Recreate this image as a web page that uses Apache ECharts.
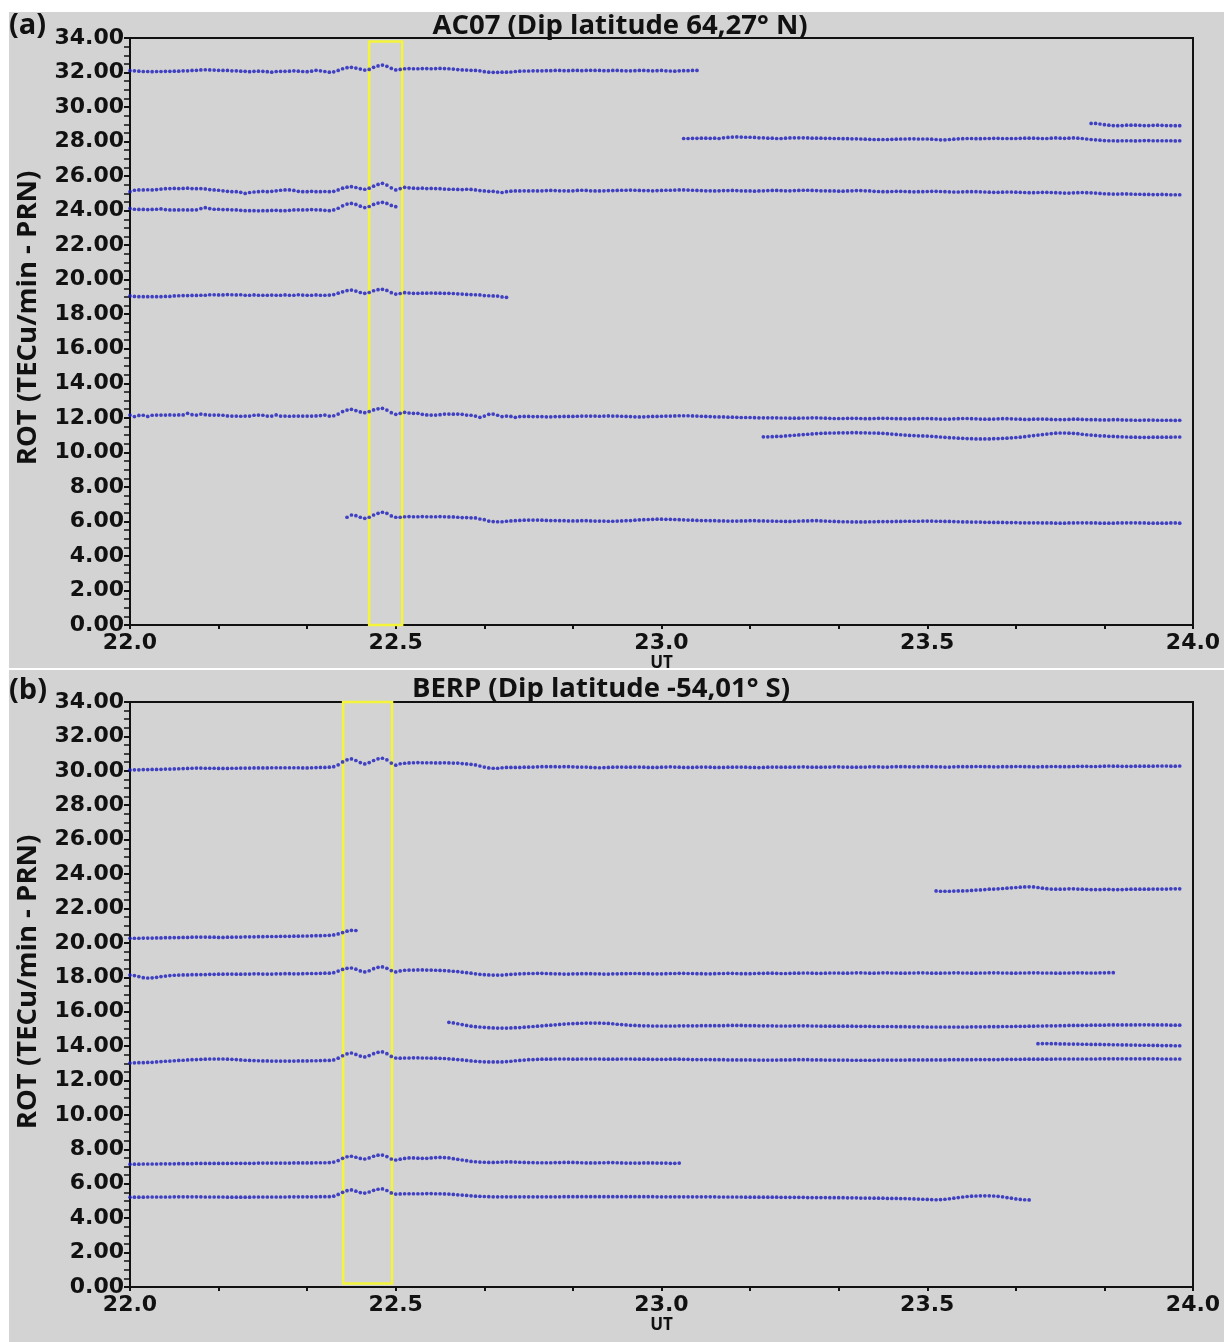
<!DOCTYPE html>
<html><head><meta charset="utf-8">
<script src="https://cdn.jsdelivr.net/npm/echarts@6/dist/echarts.min.js"></script>
<style>html,body{margin:0;padding:0;background:#fff}#c{width:1224px;height:1342px}</style>
</head><body><div id="c"></div>
<script>
// ---- sampling: 30 s per point, sample index 0 = 22.0 UT ----
const UT_START = 22.0;
const SAMPLES_PER_HOUR = 120;
const X_TICKS = [22.0, 22.5, 23.0, 23.5, 24.0];
const Y_TICKS = [0,2,4,6,8,10,12,14,16,18,20,22,24,26,28,30,32,34];
const TITLE_A = 'AC07 (Dip latitude 64,27° N)';
const TITLE_B = 'BERP (Dip latitude -54,01° S)';
const Y_NAME = 'ROT (TECu/min - PRN)';
const X_NAME = 'UT';
// highlight boxes: [utFrom, utTo, yFrom, yTo]
const BOX_A = [22.45, 22.512, -0.1, 33.8];
const BOX_B = [22.401, 22.493, 0.2, 34];

// ---------- panel (a) AC07 ----------
const A1_START = 0;
const A1 = [32.11,32.1,32.08,32.06,32.06,32.05,32.06,32.06,32.07,32.07,32.08,32.08,32.1,32.1,32.12,32.13,32.15,32.16,32.15,32.14,
32.13,32.12,32.12,32.1,32.1,32.08,32.07,32.05,32.07,32.08,32.07,32.05,32.02,32.06,32.07,32.07,32.08,32.1,32.08,32.06,
32.05,32.08,32.13,32.1,32.06,32.02,32.04,32.12,32.22,32.28,32.3,32.26,32.2,32.14,32.18,32.3,32.38,32.43,32.36,32.24,
32.15,32.18,32.22,32.23,32.22,32.22,32.23,32.23,32.22,32.23,32.24,32.23,32.22,32.2,32.17,32.15,32.14,32.13,32.12,32.1,
32.05,32.02,32.01,32.01,32.02,32.02,32.03,32.06,32.08,32.09,32.09,32.1,32.1,32.1,32.11,32.11,32.12,32.12,32.11,32.11,
32.12,32.12,32.11,32.12,32.13,32.12,32.12,32.11,32.11,32.12,32.12,32.11,32.1,32.1,32.11,32.12,32.12,32.11,32.1,32.11,
32.12,32.1,32.09,32.08,32.1,32.11,32.11,32.12,32.12];
const A2_START = 125;
const A2 = [28.18,28.18,28.19,28.19,28.2,28.2,28.19,28.2,28.18,28.22,28.24,28.26,28.27,28.26,28.25,28.25,28.24,28.22,28.22,28.2,
28.2,28.18,28.18,28.2,28.21,28.22,28.22,28.22,28.21,28.2,28.2,28.2,28.19,28.19,28.18,28.18,28.17,28.17,28.16,28.16,
28.15,28.14,28.13,28.12,28.12,28.12,28.12,28.13,28.14,28.15,28.15,28.16,28.16,28.15,28.15,28.15,28.14,28.12,28.1,28.1,
28.12,28.14,28.16,28.17,28.18,28.18,28.17,28.17,28.18,28.18,28.19,28.19,28.18,28.18,28.18,28.18,28.19,28.2,28.2,28.2,
28.19,28.18,28.18,28.2,28.21,28.2,28.19,28.2,28.21,28.2,28.18,28.15,28.12,28.1,28.08,28.06,28.05,28.05,28.04,28.05,
28.05,28.05,28.04,28.05,28.06,28.06,28.05,28.05,28.05,28.05,28.05,28.04,28.05];
const A3_START = 217;
const A3 = [29.05,29.05,29.02,28.98,28.95,28.93,28.92,28.93,28.95,28.95,28.95,28.94,28.93,28.93,28.94,28.95,28.94,28.93,28.93,28.92,28.92];
const A4_START = 0;
const A4 = [25.1,25.18,25.2,25.2,25.21,25.2,25.22,25.25,25.27,25.28,25.29,25.28,25.29,25.3,25.28,25.27,25.28,25.26,25.22,25.2,
25.18,25.15,25.12,25.1,25.1,25.06,25.0,25.05,25.08,25.1,25.12,25.1,25.12,25.15,25.18,25.2,25.2,25.17,25.12,25.1,
25.1,25.12,25.1,25.1,25.11,25.1,25.12,25.2,25.3,25.36,25.39,25.34,25.28,25.24,25.3,25.42,25.52,25.58,25.48,25.32,
25.2,25.28,25.35,25.32,25.3,25.29,25.3,25.28,25.29,25.28,25.27,25.25,25.24,25.24,25.23,25.22,25.24,25.23,25.2,25.16,
25.14,25.12,25.12,25.08,25.05,25.1,25.13,25.14,25.14,25.15,25.14,25.15,25.14,25.15,25.16,25.17,25.16,25.15,25.15,25.14,
25.15,25.17,25.18,25.17,25.15,25.14,25.14,25.15,25.16,25.16,25.17,25.18,25.18,25.19,25.18,25.17,25.16,25.16,25.15,25.16,
25.17,25.18,25.18,25.19,25.2,25.2,25.19,25.18,25.17,25.16,25.15,25.15,25.14,25.15,25.16,25.16,25.17,25.16,25.15,25.14,
25.14,25.13,25.14,25.15,25.16,25.17,25.17,25.16,25.15,25.15,25.16,25.17,25.18,25.18,25.17,25.16,25.15,25.15,25.14,25.14,
25.13,25.13,25.14,25.15,25.16,25.16,25.15,25.14,25.12,25.11,25.1,25.1,25.11,25.12,25.12,25.11,25.1,25.09,25.1,25.1,
25.11,25.12,25.12,25.11,25.1,25.09,25.08,25.08,25.09,25.1,25.1,25.1,25.09,25.08,25.07,25.06,25.06,25.07,25.08,25.08,
25.07,25.06,25.05,25.04,25.04,25.05,25.06,25.06,25.05,25.04,25.03,25.02,25.02,25.03,25.04,25.05,25.04,25.03,25.02,25.0,
24.98,24.97,24.96,24.96,24.97,24.97,24.96,24.95,24.95,24.94,24.94,24.93,24.93,24.94,24.93,24.92,24.92,24.92];
const A5_START = 0;
const A5 = [24.13,24.08,24.07,24.07,24.06,24.07,24.08,24.1,24.06,24.04,24.04,24.04,24.05,24.04,24.04,24.05,24.12,24.17,24.12,24.08,
24.08,24.06,24.06,24.05,24.04,24.02,24.0,24.0,24.0,23.99,24.0,24.0,24.01,24.02,24.0,24.0,24.02,24.04,24.05,24.04,
24.05,24.06,24.05,24.04,24.02,24.0,24.04,24.14,24.28,24.38,24.42,24.36,24.26,24.18,24.24,24.36,24.44,24.48,24.42,24.3,24.23];
const A6_START = 0;
const A6 = [19.06,19.03,19.02,19.02,19.02,19.02,19.02,19.02,19.03,19.03,19.06,19.07,19.08,19.08,19.09,19.09,19.1,19.1,19.13,19.13,
19.12,19.12,19.14,19.13,19.12,19.13,19.1,19.1,19.12,19.1,19.1,19.1,19.11,19.1,19.1,19.12,19.1,19.1,19.13,19.11,
19.1,19.1,19.12,19.1,19.1,19.11,19.14,19.22,19.3,19.37,19.4,19.34,19.26,19.21,19.26,19.36,19.42,19.44,19.38,19.25,
19.17,19.2,19.25,19.23,19.21,19.21,19.22,19.22,19.23,19.22,19.22,19.21,19.21,19.2,19.18,19.17,19.15,19.14,19.13,19.12,
19.08,19.07,19.06,19.05,19.0,18.98];
const A7_START = 0;
const A7 = [12.16,12.07,12.14,12.15,12.08,12.15,12.16,12.16,12.16,12.17,12.16,12.17,12.17,12.26,12.18,12.16,12.22,12.18,12.16,12.16,
12.16,12.15,12.11,12.1,12.1,12.09,12.1,12.1,12.15,12.16,12.15,12.1,12.1,12.17,12.1,12.1,12.09,12.1,12.1,12.1,
12.1,12.1,12.11,12.13,12.16,12.1,12.12,12.22,12.36,12.45,12.49,12.42,12.34,12.3,12.36,12.46,12.52,12.55,12.45,12.3,
12.2,12.26,12.32,12.28,12.26,12.26,12.2,12.17,12.16,12.16,12.18,12.22,12.22,12.21,12.22,12.2,12.16,12.15,12.1,12.03,
12.1,12.2,12.22,12.15,12.07,12.1,12.08,12.03,12.07,12.08,12.08,12.07,12.07,12.07,12.06,12.06,12.07,12.07,12.08,12.08,
12.08,12.09,12.1,12.1,12.1,12.1,12.09,12.1,12.11,12.1,12.1,12.09,12.08,12.07,12.06,12.05,12.06,12.07,12.08,12.08,
12.09,12.1,12.1,12.11,12.12,12.12,12.12,12.11,12.1,12.09,12.08,12.07,12.06,12.05,12.05,12.04,12.04,12.03,12.02,12.02,
12.02,12.01,12.0,12.0,12.0,12.0,12.0,11.99,11.99,11.98,11.98,11.98,11.99,11.99,12.0,12.0,11.99,11.98,11.97,11.96,
11.96,11.96,11.97,11.97,11.97,11.96,11.95,11.95,11.96,11.97,11.97,11.97,11.96,11.95,11.95,11.94,11.94,11.95,11.95,11.96,
11.96,11.95,11.94,11.93,11.93,11.93,11.94,11.95,11.96,11.96,11.95,11.94,11.93,11.92,11.92,11.93,11.94,11.95,11.95,11.94,
11.93,11.92,11.91,11.91,11.92,11.93,11.93,11.92,11.91,11.9,11.9,11.9,11.91,11.92,11.92,11.91,11.9,11.89,11.89,11.88,
11.88,11.88,11.89,11.89,11.88,11.87,11.87,11.86,11.86,11.87,11.87,11.87,11.86,11.86,11.86,11.86,11.85,11.86];
const A8_START = 143;
const A8 = [10.9,10.9,10.91,10.92,10.93,10.95,10.97,10.99,11.01,11.03,11.05,11.07,11.09,11.1,11.11,11.12,11.12,11.13,11.13,11.13,
11.14,11.14,11.13,11.13,11.12,11.12,11.11,11.1,11.08,11.06,11.04,11.02,11.0,10.98,10.97,10.96,10.95,10.94,10.93,10.91,
10.89,10.87,10.85,10.84,10.82,10.81,10.8,10.79,10.78,10.78,10.78,10.78,10.79,10.8,10.81,10.82,10.84,10.86,10.88,10.91,
10.94,10.97,11.0,11.03,11.06,11.09,11.11,11.12,11.12,11.11,11.1,11.08,11.05,11.02,11.0,10.98,10.96,10.95,10.93,10.92,
10.91,10.9,10.89,10.88,10.88,10.87,10.87,10.87,10.88,10.88,10.88,10.88,10.88,10.89,10.89];
const A9_START = 49;
const A9 = [6.24,6.37,6.33,6.24,6.18,6.24,6.37,6.47,6.53,6.47,6.32,6.24,6.24,6.27,6.28,6.27,6.27,6.28,6.27,6.27,
6.27,6.28,6.27,6.26,6.26,6.24,6.22,6.22,6.21,6.2,6.14,6.1,6.02,5.99,5.98,5.98,6.01,6.03,6.04,6.06,
6.07,6.08,6.08,6.08,6.07,6.06,6.05,6.05,6.04,6.04,6.03,6.03,6.03,6.04,6.04,6.03,6.02,6.02,6.02,6.01,
6.01,6.02,6.03,6.04,6.05,6.07,6.09,6.1,6.11,6.12,6.13,6.13,6.12,6.12,6.11,6.1,6.09,6.08,6.07,6.06,
6.05,6.05,6.04,6.04,6.03,6.03,6.02,6.02,6.02,6.03,6.03,6.04,6.04,6.03,6.03,6.02,6.02,6.01,6.01,6.0,
6.0,6.01,6.02,6.03,6.03,6.04,6.04,6.03,6.02,6.01,6.0,5.99,5.98,5.98,5.97,5.97,5.97,5.97,5.98,5.98,
5.99,5.99,5.99,5.99,6.0,6.0,6.01,6.01,6.01,6.01,6.02,6.02,6.02,6.01,6.01,6.0,6.0,5.99,5.98,5.97,
5.97,5.96,5.96,5.96,5.95,5.95,5.94,5.94,5.94,5.93,5.93,5.93,5.92,5.92,5.92,5.92,5.92,5.91,5.91,5.91,
5.9,5.9,5.9,5.91,5.91,5.92,5.92,5.92,5.91,5.91,5.9,5.9,5.9,5.9,5.91,5.91,5.92,5.92,5.92,5.91,
5.91,5.9,5.9,5.9,5.9,5.9,5.91,5.91,5.9];

// ---------- panel (b) BERP ----------
const B1_START = 0;
const B1 = [30.05,30.06,30.06,30.07,30.07,30.08,30.08,30.09,30.1,30.1,30.11,30.12,30.13,30.14,30.15,30.16,30.16,30.15,30.15,30.15,
30.14,30.14,30.14,30.15,30.15,30.16,30.16,30.16,30.17,30.17,30.17,30.17,30.18,30.18,30.18,30.18,30.18,30.18,30.18,30.17,
30.17,30.18,30.19,30.2,30.2,30.21,30.24,30.35,30.52,30.64,30.69,30.6,30.48,30.4,30.48,30.6,30.7,30.73,30.64,30.45,
30.33,30.41,30.44,30.46,30.47,30.48,30.47,30.47,30.47,30.46,30.46,30.47,30.46,30.45,30.45,30.42,30.4,30.38,30.34,30.28,
30.22,30.17,30.15,30.15,30.18,30.2,30.2,30.2,30.2,30.21,30.21,30.22,30.23,30.24,30.24,30.24,30.24,30.23,30.24,30.24,
30.23,30.22,30.22,30.22,30.2,30.19,30.18,30.19,30.2,30.21,30.22,30.22,30.21,30.21,30.22,30.22,30.21,30.2,30.2,30.2,
30.21,30.22,30.23,30.22,30.21,30.2,30.2,30.2,30.21,30.22,30.22,30.21,30.2,30.2,30.2,30.21,30.21,30.22,30.22,30.21,
30.2,30.2,30.19,30.2,30.21,30.22,30.22,30.21,30.21,30.21,30.22,30.22,30.23,30.22,30.21,30.21,30.21,30.22,30.22,30.23,
30.23,30.22,30.22,30.21,30.21,30.22,30.22,30.23,30.23,30.23,30.22,30.22,30.23,30.24,30.24,30.24,30.23,30.23,30.23,30.24,
30.24,30.24,30.23,30.23,30.22,30.22,30.23,30.24,30.24,30.24,30.24,30.25,30.25,30.24,30.24,30.23,30.23,30.24,30.24,30.24,
30.25,30.25,30.24,30.24,30.23,30.23,30.24,30.24,30.25,30.25,30.24,30.24,30.24,30.25,30.26,30.26,30.26,30.25,30.25,30.26,
30.27,30.28,30.27,30.27,30.26,30.26,30.26,30.27,30.27,30.27,30.27,30.27,30.28,30.28,30.28,30.27,30.27,30.28];
const B2_START = 182;
const B2 = [23.02,23.0,23.0,23.0,23.01,23.02,23.02,23.03,23.05,23.07,23.08,23.1,23.12,23.13,23.14,23.16,23.18,23.2,23.22,23.24,
23.25,23.26,23.25,23.22,23.18,23.15,23.13,23.12,23.12,23.13,23.14,23.14,23.13,23.12,23.11,23.1,23.1,23.1,23.11,23.11,
23.1,23.1,23.1,23.11,23.12,23.12,23.12,23.12,23.12,23.13,23.13,23.13,23.13,23.14,23.14,23.14];
const B3_START = 0;
const B3 = [20.27,20.27,20.27,20.28,20.28,20.28,20.29,20.29,20.3,20.3,20.31,20.31,20.32,20.32,20.33,20.34,20.34,20.34,20.33,20.33,
20.32,20.32,20.33,20.33,20.34,20.34,20.35,20.35,20.35,20.36,20.36,20.37,20.37,20.37,20.38,20.38,20.38,20.39,20.39,20.4,
20.4,20.41,20.42,20.42,20.43,20.44,20.46,20.52,20.6,20.68,20.73,20.72];
const B4_START = 0;
const B4 = [18.13,18.1,18.04,17.98,17.96,17.97,18.0,18.04,18.07,18.1,18.12,18.13,18.14,18.14,18.15,18.15,18.16,18.16,18.17,18.17,
18.18,18.18,18.19,18.19,18.18,18.18,18.19,18.19,18.2,18.2,18.19,18.19,18.19,18.2,18.2,18.21,18.21,18.2,18.2,18.21,
18.22,18.22,18.22,18.23,18.24,18.24,18.27,18.36,18.46,18.52,18.54,18.47,18.37,18.31,18.38,18.5,18.58,18.6,18.52,18.39,
18.31,18.37,18.41,18.42,18.42,18.43,18.43,18.42,18.42,18.41,18.4,18.39,18.37,18.35,18.33,18.3,18.27,18.24,18.2,18.17,
18.15,18.14,18.13,18.13,18.13,18.15,18.17,18.19,18.2,18.21,18.22,18.22,18.23,18.23,18.22,18.21,18.2,18.2,18.19,18.19,
18.2,18.2,18.21,18.21,18.21,18.2,18.2,18.19,18.19,18.2,18.2,18.21,18.21,18.22,18.22,18.22,18.21,18.21,18.2,18.2,
18.2,18.21,18.22,18.22,18.23,18.23,18.22,18.22,18.21,18.21,18.2,18.2,18.21,18.22,18.22,18.23,18.23,18.22,18.21,18.21,
18.21,18.22,18.23,18.23,18.24,18.24,18.23,18.22,18.22,18.23,18.24,18.24,18.25,18.25,18.24,18.23,18.23,18.24,18.25,18.25,
18.25,18.24,18.24,18.25,18.26,18.26,18.25,18.24,18.24,18.25,18.26,18.26,18.25,18.25,18.24,18.24,18.25,18.25,18.26,18.26,
18.25,18.24,18.24,18.24,18.25,18.25,18.26,18.26,18.25,18.25,18.24,18.24,18.25,18.25,18.26,18.26,18.26,18.25,18.25,18.24,
18.24,18.25,18.25,18.26,18.26,18.26,18.25,18.25,18.25,18.24,18.24,18.25,18.25,18.26,18.26,18.26,18.25,18.25,18.25,18.26,
18.26,18.27,18.27];
const B5_START = 72;
const B5 = [15.38,15.35,15.3,15.25,15.2,15.16,15.13,15.11,15.09,15.07,15.06,15.05,15.05,15.05,15.06,15.07,15.08,15.1,15.12,15.14,
15.16,15.18,15.2,15.22,15.24,15.26,15.28,15.3,15.31,15.32,15.33,15.34,15.34,15.34,15.34,15.33,15.32,15.3,15.27,15.25,
15.23,15.21,15.2,15.19,15.18,15.18,15.17,15.17,15.17,15.17,15.17,15.17,15.18,15.18,15.18,15.18,15.18,15.19,15.19,15.19,
15.19,15.19,15.19,15.2,15.2,15.2,15.2,15.19,15.19,15.19,15.18,15.18,15.18,15.18,15.17,15.17,15.17,15.17,15.18,15.18,
15.18,15.18,15.17,15.17,15.16,15.16,15.16,15.16,15.16,15.16,15.16,15.16,15.15,15.15,15.15,15.15,15.14,15.14,15.14,15.14,
15.14,15.13,15.13,15.13,15.12,15.12,15.12,15.12,15.11,15.11,15.11,15.11,15.11,15.11,15.11,15.11,15.11,15.11,15.12,15.12,
15.12,15.12,15.13,15.13,15.13,15.14,15.14,15.14,15.15,15.15,15.15,15.16,15.16,15.17,15.17,15.18,15.18,15.18,15.19,15.19,
15.2,15.2,15.2,15.21,15.21,15.22,15.22,15.22,15.22,15.23,15.23,15.23,15.23,15.23,15.23,15.23,15.24,15.24,15.24,15.23,
15.23,15.23,15.23,15.22,15.22,15.22];
const B6_START = 205;
const B6 = [14.14,14.15,14.15,14.14,14.14,14.13,14.13,14.12,14.12,14.12,14.11,14.11,14.1,14.1,14.1,14.09,14.09,14.08,14.08,14.07,
14.07,14.06,14.06,14.05,14.05,14.05,14.04,14.04,14.03,14.03,14.03,14.02,14.02];
const B7_START = 0;
const B7 = [13.02,13.03,13.04,13.04,13.05,13.06,13.08,13.1,13.12,13.13,13.15,13.17,13.18,13.2,13.21,13.22,13.23,13.24,13.25,13.25,
13.25,13.25,13.24,13.23,13.22,13.2,13.18,13.17,13.16,13.15,13.14,13.14,13.13,13.13,13.13,13.13,13.13,13.13,13.14,13.14,
13.14,13.15,13.15,13.16,13.17,13.17,13.2,13.3,13.44,13.55,13.6,13.52,13.42,13.37,13.45,13.56,13.64,13.66,13.56,13.4,
13.31,13.3,13.31,13.31,13.32,13.32,13.31,13.31,13.3,13.3,13.29,13.28,13.26,13.24,13.22,13.2,13.17,13.14,13.12,13.1,
13.09,13.08,13.08,13.08,13.08,13.1,13.12,13.15,13.17,13.19,13.21,13.22,13.23,13.24,13.24,13.24,13.25,13.25,13.25,13.25,
13.24,13.24,13.25,13.25,13.25,13.25,13.25,13.24,13.24,13.24,13.24,13.25,13.25,13.25,13.24,13.24,13.24,13.24,13.23,13.23,
13.23,13.23,13.24,13.24,13.24,13.23,13.23,13.22,13.22,13.22,13.22,13.22,13.21,13.21,13.21,13.2,13.2,13.2,13.2,13.2,
13.2,13.19,13.19,13.19,13.19,13.19,13.19,13.2,13.2,13.2,13.21,13.21,13.21,13.21,13.2,13.2,13.2,13.19,13.19,13.19,
13.19,13.19,13.19,13.18,13.18,13.18,13.18,13.18,13.18,13.19,13.19,13.19,13.19,13.19,13.19,13.19,13.2,13.2,13.2,13.2,
13.2,13.2,13.2,13.2,13.2,13.21,13.21,13.21,13.21,13.21,13.21,13.22,13.22,13.22,13.22,13.22,13.22,13.23,13.23,13.23,
13.23,13.23,13.24,13.24,13.24,13.24,13.24,13.24,13.24,13.25,13.25,13.25,13.25,13.25,13.25,13.25,13.25,13.25,13.25,13.26,
13.26,13.26,13.26,13.26,13.26,13.26,13.26,13.26,13.26,13.26,13.26,13.26,13.26,13.25,13.25,13.25,13.25,13.25];
const B8_START = 0;
const B8 = [7.14,7.14,7.14,7.15,7.15,7.15,7.15,7.16,7.16,7.16,7.16,7.17,7.17,7.17,7.17,7.18,7.18,7.18,7.18,7.18,
7.18,7.18,7.18,7.19,7.19,7.19,7.19,7.19,7.19,7.2,7.2,7.2,7.2,7.2,7.2,7.2,7.2,7.21,7.21,7.21,
7.21,7.21,7.22,7.22,7.22,7.23,7.26,7.35,7.48,7.57,7.6,7.54,7.47,7.44,7.5,7.6,7.66,7.67,7.58,7.44,
7.38,7.43,7.47,7.5,7.5,7.49,7.48,7.48,7.5,7.52,7.53,7.52,7.5,7.46,7.42,7.38,7.34,7.3,7.28,7.26,
7.25,7.24,7.24,7.25,7.26,7.27,7.27,7.26,7.25,7.24,7.23,7.23,7.22,7.22,7.22,7.22,7.23,7.23,7.24,7.24,
7.24,7.23,7.22,7.21,7.21,7.21,7.22,7.22,7.23,7.23,7.22,7.21,7.2,7.2,7.2,7.2,7.21,7.21,7.21,7.2,
7.2,7.2,7.19,7.19,7.2];
const B9_START = 0;
const B9 = [5.22,5.22,5.22,5.22,5.23,5.23,5.23,5.23,5.23,5.23,5.24,5.24,5.24,5.24,5.24,5.24,5.24,5.23,5.23,5.23,
5.23,5.23,5.22,5.22,5.22,5.22,5.22,5.22,5.23,5.23,5.23,5.23,5.23,5.23,5.23,5.23,5.24,5.24,5.24,5.24,
5.24,5.24,5.24,5.25,5.25,5.25,5.28,5.38,5.5,5.6,5.64,5.57,5.49,5.46,5.52,5.62,5.68,5.7,5.61,5.47,
5.4,5.41,5.42,5.42,5.42,5.42,5.42,5.43,5.43,5.42,5.42,5.41,5.4,5.38,5.36,5.34,5.32,5.3,5.28,5.27,
5.26,5.25,5.24,5.24,5.24,5.24,5.24,5.24,5.24,5.24,5.24,5.24,5.24,5.24,5.24,5.24,5.24,5.24,5.25,5.25,
5.25,5.25,5.25,5.25,5.25,5.25,5.25,5.25,5.25,5.25,5.25,5.25,5.25,5.25,5.25,5.25,5.25,5.25,5.25,5.24,
5.24,5.24,5.24,5.24,5.24,5.24,5.24,5.24,5.24,5.24,5.24,5.24,5.24,5.23,5.23,5.23,5.23,5.23,5.23,5.22,
5.22,5.22,5.22,5.22,5.22,5.22,5.22,5.21,5.21,5.21,5.21,5.21,5.21,5.2,5.2,5.2,5.2,5.2,5.19,5.19,
5.19,5.19,5.18,5.18,5.18,5.17,5.17,5.17,5.16,5.16,5.16,5.15,5.15,5.15,5.14,5.14,5.13,5.12,5.11,5.1,
5.09,5.08,5.07,5.08,5.1,5.13,5.16,5.2,5.23,5.26,5.28,5.29,5.3,5.3,5.3,5.29,5.27,5.24,5.2,5.16,
5.12,5.09,5.07,5.06];

const TRACKS_A = [[A1_START,A1],[A2_START,A2],[A3_START,A3],[A4_START,A4],[A5_START,A5],[A6_START,A6],[A7_START,A7],[A8_START,A8],[A9_START,A9]];
const TRACKS_B = [[B1_START,B1],[B2_START,B2],[B3_START,B3],[B4_START,B4],[B5_START,B5],[B6_START,B6],[B7_START,B7],[B8_START,B8],[B9_START,B9]];

// ---------- styling ----------
const BG = '#d3d3d3';
const DOT = '#1c1cbe';
const YELLOW = '#f4f43a';
const TICK_FONT = 'DejaVu Sans';
const TEXT_FONT = '"Open Sans", "DejaVu Sans", sans-serif';

function toPoints(start, vals){
  return vals.map((v,k)=>[UT_START + (start + k)/SAMPLES_PER_HOUR, v]);
}

const chart = echarts.init(document.getElementById('c'), null, {renderer:'canvas'});

const grids = [
  {left:130, top:38, width:1063, height:587, show:true, borderColor:'#111', borderWidth:2, backgroundColor:'transparent'},
  {left:130, top:702, width:1063, height:585, show:true, borderColor:'#111', borderWidth:2, backgroundColor:'transparent'}
];

function xAxis(gi){
  return {
    type:'value', gridIndex:gi, min:X_TICKS[0], max:X_TICKS[X_TICKS.length-1], interval:X_TICKS[1]-X_TICKS[0],
    name:X_NAME, nameLocation:'middle', nameGap:30,
    nameTextStyle:{fontFamily:TEXT_FONT, fontWeight:'bold', fontSize:17, color:'#111'},
    axisLine:{show:true, lineStyle:{color:'#111', width:2}},
    axisTick:{show:true, inside:false, length:4, lineStyle:{color:'#111', width:2}},
    minorTick:{show:true, splitNumber:3, length:4, lineStyle:{color:'#111', width:2}},
    splitLine:{show:false},
    axisLabel:{margin:7, fontFamily:TICK_FONT, fontWeight:'bold', fontSize:22, color:'#111',
      formatter:v=>v.toFixed(1)}
  };
}
function yAxis(gi){
  return {
    type:'value', gridIndex:gi, min:Y_TICKS[0], max:Y_TICKS[Y_TICKS.length-1], interval:Y_TICKS[1]-Y_TICKS[0],
    axisLine:{show:true, lineStyle:{color:'#111', width:2}},
    axisTick:{show:true, length:6, lineStyle:{color:'#111', width:2}},
    minorTick:{show:true, splitNumber:4, length:6, lineStyle:{color:'#111', width:1.5}},
    splitLine:{show:false},
    axisLabel:{margin:6, fontFamily:TICK_FONT, fontWeight:'bold', fontSize:22, color:'#111',
      formatter:v=>v.toFixed(2)}
  };
}

const series = [];
function addPanel(tracks, gi, box){
  tracks.forEach(([s,vals])=>{
    series.push({type:'scatter', xAxisIndex:gi, yAxisIndex:gi, symbol:'circle', symbolSize:3.7,
      itemStyle:{color:DOT}, data:toPoints(s,vals), silent:true, animation:false, z:3});
  });
  series.push({type:'scatter', xAxisIndex:gi, yAxisIndex:gi, data:[], silent:true, animation:false,
    markArea:{silent:true, itemStyle:{color:'rgba(0,0,0,0)', borderColor:YELLOW, borderWidth:2.5},
      data:[[{coord:[box[0],box[2]]},{coord:[box[1],box[3]]}]]}});
}
addPanel(TRACKS_A,0,BOX_A);
addPanel(TRACKS_B,1,BOX_B);

const graphic = [
  {type:'rect', left:0, top:0, shape:{width:9, height:1342}, style:{fill:'#fff'}, z:-1},
  {type:'rect', left:0, top:0, shape:{width:1224, height:12}, style:{fill:'#fff'}, z:-1},
  {type:'rect', left:0, top:668, shape:{width:1224, height:2}, style:{fill:'#fff'}, z:-1},
  {type:'text', x:9, y:26, style:{text:'(a)', font:'bold 29px '+TEXT_FONT, fill:'#111', textVerticalAlign:'middle'}},
  {type:'text', x:9, y:691, style:{text:'(b)', font:'bold 29px '+TEXT_FONT, fill:'#111', textVerticalAlign:'middle'}},
  {type:'text', x:620, y:26, style:{text:TITLE_A, font:'bold 27.5px '+TEXT_FONT, fill:'#111', textAlign:'center', textVerticalAlign:'middle'}},
  {type:'text', x:601, y:689, style:{text:TITLE_B, font:'bold 27.5px '+TEXT_FONT, fill:'#111', textAlign:'center', textVerticalAlign:'middle'}},
  {type:'text', x:28, y:318, rotation:Math.PI/2, style:{text:Y_NAME, font:'bold 27.5px '+TEXT_FONT, fill:'#111', textAlign:'center', textVerticalAlign:'middle'}},
  {type:'text', x:28, y:982, rotation:Math.PI/2, style:{text:Y_NAME, font:'bold 27.5px '+TEXT_FONT, fill:'#111', textAlign:'center', textVerticalAlign:'middle'}}
];

chart.setOption({
  backgroundColor:BG,
  animation:false,
  grid:grids,
  xAxis:[xAxis(0), xAxis(1)],
  yAxis:[yAxis(0), yAxis(1)],
  series:series,
  graphic:graphic
});
</script>
</body></html>
